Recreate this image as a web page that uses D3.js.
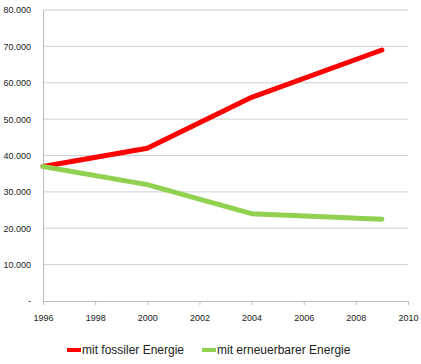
<!DOCTYPE html>
<html>
<head>
<meta charset="utf-8">
<script src="https://d3js.org/d3.v7.min.js"></script>
<style>
  body { margin: 0; background: #fff; }
  svg text { font-family: "Liberation Sans", Arial, sans-serif; fill: #222; }
</style>
</head>
<body>
<div class="chart"></div>
<script>
// data
var years = [1996, 2000, 2004, 2009];
var fossil = [37000, 42000, 56000, 69000];
var renewable = [37000, 32000, 24000, 22500];
var seriesNames = ["mit fossiler Energie", "mit erneuerbarer Energie"];
var seriesColors = ["#ff0000", "#92d050"];
var xTicks = [1996, 1998, 2000, 2002, 2004, 2006, 2008, 2010];
var yTicks = [0, 10000, 20000, 30000, 40000, 50000, 60000, 70000, 80000];

var width = 421, height = 364;
var svg = d3.select(".chart").append("svg")
    .attr("width", width)
    .attr("height", height);

var x = d3.scaleLinear().domain([1996, 2010]).range([43, 408]);
var y = d3.scaleLinear().domain([0, 80000]).range([301, 10]);

var fmt = function (d) {
    if (d === 0) return "-";
    return d3.format(",")(d).replace(/,/g, ".");
};

// gridlines
svg.append("g").selectAll("line")
    .data(yTicks.filter(function (d) { return d > 0; }))
    .enter().append("line")
    .attr("x1", x(1996)).attr("x2", x(2010))
    .attr("y1", function (d) { return y(d); })
    .attr("y2", function (d) { return y(d); })
    .attr("stroke", "#cfcfcf")
    .attr("stroke-width", 1);

// y axis
var yAxis = svg.append("g")
    .attr("transform", "translate(" + x(1996) + ",0)")
    .call(d3.axisLeft(y).tickValues(yTicks).tickSize(0).tickPadding(12).tickFormat(fmt));
yAxis.select(".domain").attr("stroke", "#bdbdbd");
yAxis.selectAll("text").attr("font-size", 9).attr("fill", "#222")
    .attr("font-family", "Liberation Sans, Arial, sans-serif");

// x axis
var xAxis = svg.append("g")
    .attr("transform", "translate(0," + y(0) + ")")
    .call(d3.axisBottom(x).tickValues(xTicks).tickSize(4).tickPadding(10).tickFormat(d3.format("d")));
xAxis.select(".domain").attr("stroke", "#bdbdbd");
xAxis.selectAll(".tick line").attr("stroke", "#bdbdbd");
xAxis.selectAll("text").attr("font-size", 9).attr("fill", "#222")
    .attr("font-family", "Liberation Sans, Arial, sans-serif");

// lines
var line = d3.line()
    .x(function (d) { return x(d[0]); })
    .y(function (d) { return y(d[1]); });

[fossil, renewable].forEach(function (vals, i) {
    svg.append("path")
        .datum(years.map(function (yr, j) { return [yr, vals[j]]; }))
        .attr("d", line)
        .attr("fill", "none")
        .attr("stroke", seriesColors[i])
        .attr("stroke-width", 5)
        .attr("stroke-linecap", "round")
        .attr("stroke-linejoin", "round");
});

// legend
var legendX = [67, 202];
var legend = svg.append("g").selectAll("g")
    .data(seriesNames)
    .enter().append("g")
    .attr("transform", function (d, i) { return "translate(" + legendX[i] + ",350)"; });
legend.append("line")
    .attr("x1", 0).attr("x2", 14)
    .attr("stroke", function (d, i) { return seriesColors[i]; })
    .attr("stroke-width", 4);
legend.append("text")
    .attr("x", 15).attr("dy", "0.35em")
    .attr("font-size", 12)
    .text(function (d) { return d; });
</script>
</body>
</html>
